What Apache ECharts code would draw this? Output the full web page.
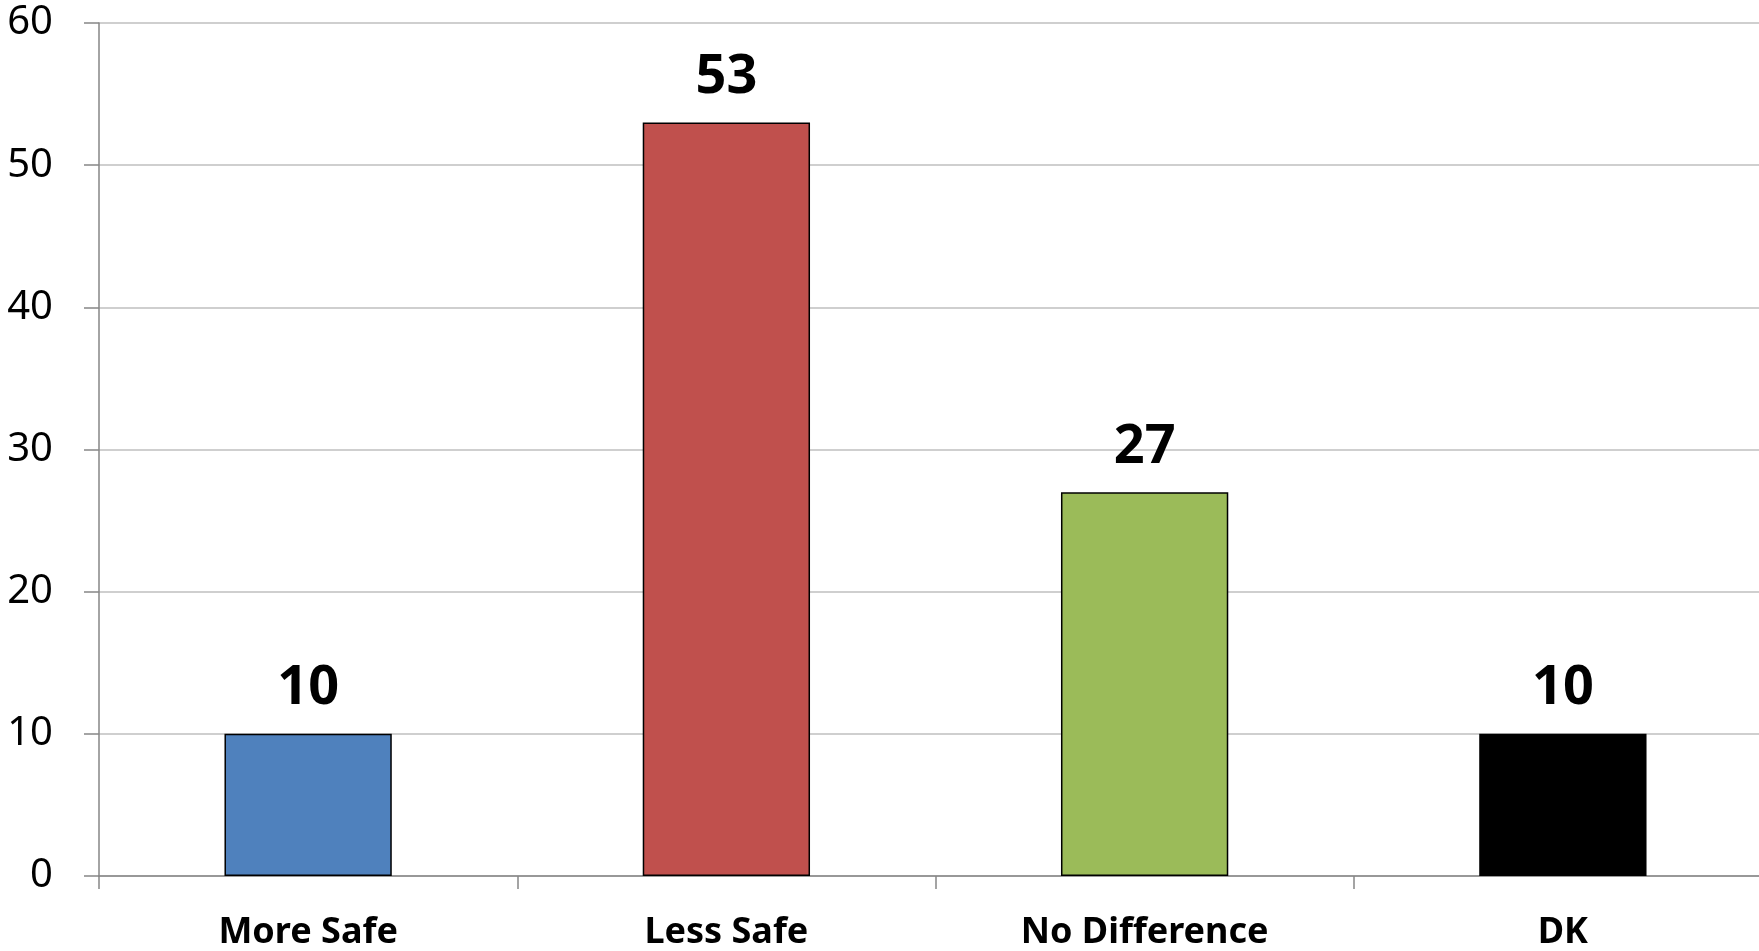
<!DOCTYPE html>
<html>
<head>
<meta charset="utf-8">
<script src="https://cdn.jsdelivr.net/npm/echarts@6/dist/echarts.min.js"></script>
<style>
html,body{margin:0;padding:0;background:#fff;overflow:hidden;width:1759px;height:951px;}
#chart{width:1800px;height:951px;}
</style>
</head>
<body>
<div id="chart"></div>
<script>
const categories = ["More Safe", "Less Safe", "No Difference", "DK"];
const values = [10, 53, 27, 10];
const barColors = ["#4F81BD", "#C0504D", "#9BBB59", "#000000"];
const yTicks = [0, 10, 20, 30, 40, 50, 60];

const chart = echarts.init(document.getElementById('chart'), null, {renderer: 'canvas'});
const font = '"Noto Sans", "Open Sans", sans-serif';
chart.setOption({
  animation: false,
  grid: {left: 99, top: 23, right: 1800 - 1772, bottom: 951 - 876.5},
  xAxis: {
    type: 'category',
    data: categories,
    axisLine: {lineStyle: {color: '#868686', width: 1.5}},
    axisTick: {show: true, length: 13, lineStyle: {color: '#868686', width: 1.5}},
    axisLabel: {fontFamily: font, fontSize: 36, fontWeight: 'bold', color: '#000', margin: 39, interval: 0}
  },
  yAxis: {
    type: 'value',
    min: yTicks[0], max: yTicks[yTicks.length - 1], interval: 10,
    axisLine: {show: true, lineStyle: {color: '#868686', width: 1.5}},
    axisTick: {show: true, length: 15, lineStyle: {color: '#868686', width: 1.5}},
    splitLine: {lineStyle: {color: '#BFBFBF', width: 1.5}},
    axisLabel: {fontFamily: font, fontSize: 40, color: '#000', margin: 46}
  },
  series: [{
    type: 'bar',
    barWidth: '40%',
    data: values.map((v, i) => ({value: v, itemStyle: {color: barColors[i]}})),
    itemStyle: {borderColor: '#000', borderWidth: 1.5},
    label: {show: true, position: 'top', distance: 18, fontFamily: font, fontSize: 54, fontWeight: 'bold', color: '#000'}
  }]
});
</script>
</body>
</html>
